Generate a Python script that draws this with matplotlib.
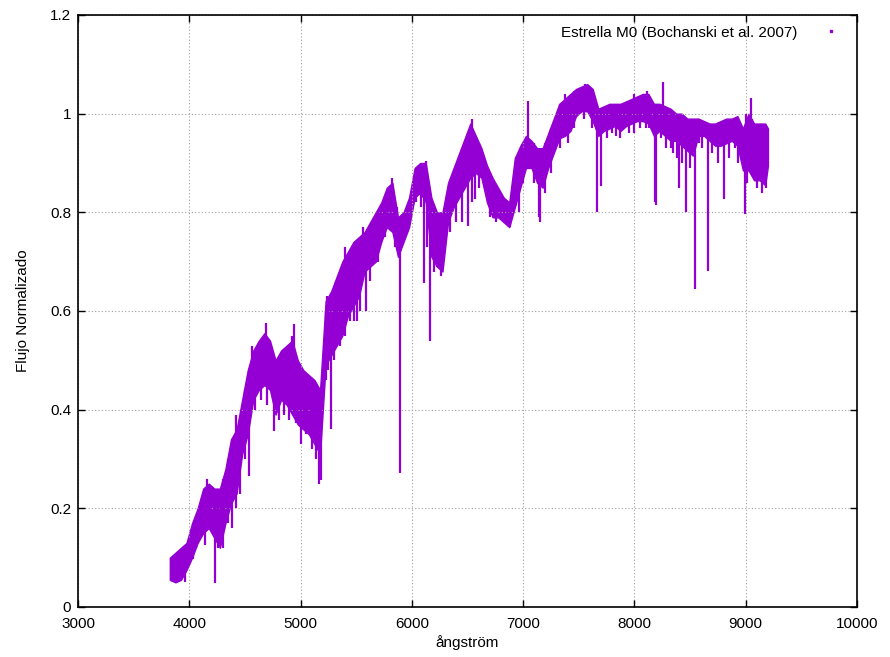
import matplotlib
matplotlib.use("Agg")
import matplotlib.pyplot as plt
from matplotlib.ticker import MultipleLocator, FuncFormatter

# Wavelength grid (Angstrom) and upper / lower envelope of the dense spectrum
wavelength = [3825, 3875, 3925, 3975, 4025, 4075, 4125, 4175, 4225, 4275,
              4325, 4375, 4425, 4475, 4525, 4575, 4625, 4675, 4725, 4775,
              4825, 4875, 4925, 4975, 5025, 5075, 5125, 5175, 5225, 5275,
              5325, 5375, 5425, 5475, 5525, 5575, 5625, 5675, 5725, 5775,
              5825, 5875, 5925, 5975, 6025, 6075, 6125, 6175, 6225, 6275,
              6325, 6375, 6425, 6475, 6525, 6575, 6625, 6675, 6725, 6775,
              6825, 6875, 6925, 6975, 7025, 7075, 7125, 7175, 7225, 7275,
              7325, 7375, 7425, 7475, 7525, 7575, 7625, 7675, 7725, 7775,
              7825, 7875, 7925, 7975, 8025, 8075, 8125, 8175, 8225, 8275,
              8325, 8375, 8425, 8475, 8525, 8575, 8625, 8675, 8725, 8775,
              8825, 8875, 8925, 8975, 9025, 9075, 9125, 9175, 9200]
flux_hi = [0.10, 0.11, 0.12, 0.13, 0.17, 0.20, 0.24, 0.25, 0.24, 0.24,
           0.28, 0.34, 0.36, 0.42, 0.48, 0.52, 0.54, 0.555, 0.54, 0.50,
           0.52, 0.53, 0.54, 0.50, 0.48, 0.47, 0.46, 0.44, 0.62, 0.64,
           0.67, 0.70, 0.72, 0.74, 0.75, 0.76, 0.78, 0.80, 0.82, 0.85,
           0.86, 0.79, 0.80, 0.83, 0.89, 0.90, 0.90, 0.83, 0.80, 0.80,
           0.86, 0.89, 0.92, 0.95, 0.98, 0.955, 0.93, 0.895, 0.87, 0.85,
           0.83, 0.82, 0.91, 0.935, 0.955, 0.945, 0.93, 0.93, 0.96, 0.99,
           1.02, 1.03, 1.04, 1.05, 1.055, 1.06, 1.05, 1.01, 1.015, 1.02,
           1.02, 1.02, 1.025, 1.03, 1.035, 1.04, 1.04, 1.02, 1.02, 1.015,
           1.01, 1.00, 1.00, 0.99, 0.99, 0.99, 0.985, 0.98, 0.98, 0.985,
           0.99, 0.99, 0.995, 0.97, 1.00, 0.98, 0.98, 0.98, 0.97]
flux_lo = [0.055, 0.05, 0.055, 0.075, 0.10, 0.13, 0.15, 0.16, 0.14, 0.12,
           0.17, 0.21, 0.23, 0.31, 0.35, 0.42, 0.44, 0.45, 0.44, 0.39,
           0.42, 0.41, 0.39, 0.37, 0.36, 0.35, 0.33, 0.31, 0.49, 0.51,
           0.53, 0.55, 0.59, 0.61, 0.63, 0.68, 0.69, 0.70, 0.74, 0.77,
           0.76, 0.71, 0.74, 0.77, 0.83, 0.84, 0.82, 0.71, 0.69, 0.68,
           0.78, 0.81, 0.83, 0.85, 0.87, 0.88, 0.87, 0.82, 0.79, 0.79,
           0.78, 0.77, 0.81, 0.85, 0.89, 0.89, 0.86, 0.85, 0.89, 0.92,
           0.95, 0.955, 0.965, 0.995, 1.005, 1.005, 0.985, 0.955, 0.965, 0.97,
           0.975, 0.965, 0.975, 0.98, 0.985, 0.985, 0.98, 0.955, 0.965, 0.955,
           0.945, 0.945, 0.935, 0.925, 0.915, 0.955, 0.955, 0.945, 0.935, 0.935,
           0.94, 0.945, 0.935, 0.885, 0.885, 0.865, 0.865, 0.855, 0.895]

# Narrow absorption features: wavelength, minimum flux, local top
line_wl = [3960, 4030, 4145, 4227, 4385, 4535, 4762, 4957, 5170, 5185,
           5270, 5320, 5447, 5510, 5590, 5893, 6110, 6140, 6162, 6500,
           6570, 6880, 7150, 7665, 7699, 7830, 8183, 8194, 8325, 8400,
           8465, 8542, 8662, 8805, 8990, 9150,
           3880, 3910, 4000, 4060, 4100, 4180, 4260, 4290, 4305, 4350,
           4420, 4460, 4500, 4590, 4640, 4700, 4810, 4850, 4900, 5000,
           5050, 5100, 5140, 5230, 5250, 5300, 5350, 5400, 5480, 5530,
           5620, 5700, 5760, 5850, 5870, 6040, 6080, 6200, 6230, 6260,
           6340, 6400, 6450, 6540, 6600, 6700, 6760, 6960, 7000, 7100,
           7140, 7200, 7250, 7330, 7400, 7460, 7550, 7620, 7750, 7800,
           7870, 7950, 8000, 8050, 8100, 8130, 8240, 8280, 8350, 8380,
           8430, 8500, 8580, 8610, 8700, 8750, 8850, 8900, 8930, 9010,
           9060, 9100, 9180]
line_min = [0.05, 0.097, 0.126, 0.049, 0.16, 0.265, 0.356, 0.373, 0.25, 0.257,
            0.36, 0.53, 0.58, 0.58, 0.60, 0.271, 0.657, 0.73, 0.54, 0.773,
            0.827, 0.77, 0.78, 0.80, 0.854, 0.955, 0.82, 0.814, 0.93, 0.85,
            0.80, 0.645, 0.682, 0.827, 0.797, 0.84,
            0.05, 0.06, 0.085, 0.12, 0.14, 0.16, 0.12, 0.13, 0.12, 0.17,
            0.20, 0.23, 0.30, 0.40, 0.42, 0.41, 0.38, 0.39, 0.38, 0.33,
            0.35, 0.32, 0.30, 0.46, 0.48, 0.50, 0.53, 0.55, 0.58, 0.60,
            0.66, 0.70, 0.75, 0.73, 0.74, 0.82, 0.81, 0.68, 0.69, 0.67,
            0.76, 0.78, 0.78, 0.82, 0.85, 0.79, 0.78, 0.80, 0.86, 0.86,
            0.79, 0.84, 0.88, 0.93, 0.94, 0.97, 0.99, 0.97, 0.95, 0.96,
            0.95, 0.96, 0.96, 0.97, 0.97, 0.97, 0.95, 0.93, 0.92, 0.91,
            0.90, 0.89, 0.94, 0.93, 0.92, 0.90, 0.91, 0.93, 0.90, 0.86,
            0.88, 0.85, 0.85]
line_top = [0.11, 0.15, 0.20, 0.22, 0.30, 0.42, 0.48, 0.50, 0.42, 0.40,
            0.56, 0.66, 0.72, 0.74, 0.76, 0.76, 0.88, 0.88, 0.80, 0.95,
            0.93, 0.82, 0.90, 1.02, 1.00, 1.01, 1.02, 1.02, 1.00, 1.00,
            0.99, 0.98, 0.98, 0.98, 0.97, 0.97,
            0.10, 0.11, 0.14, 0.17, 0.20, 0.24, 0.23, 0.24, 0.26, 0.30,
            0.35, 0.38, 0.44, 0.51, 0.53, 0.53, 0.50, 0.52, 0.52, 0.48,
            0.47, 0.46, 0.45, 0.60, 0.61, 0.63, 0.66, 0.69, 0.72, 0.74,
            0.77, 0.80, 0.83, 0.82, 0.81, 0.88, 0.89, 0.81, 0.79, 0.79,
            0.86, 0.89, 0.92, 0.97, 0.94, 0.88, 0.85, 0.91, 0.93, 0.94,
            0.93, 0.94, 0.97, 1.02, 1.03, 1.045, 1.05, 1.05, 1.01, 1.015,
            1.015, 1.02, 1.025, 1.03, 1.035, 1.035, 1.015, 1.01, 1.005, 1.0,
            0.995, 0.985, 0.985, 0.98, 0.975, 0.975, 0.985, 0.99, 0.99, 0.99,
            0.99, 0.975, 0.975]

# Narrow spikes above the band: wavelength, maximum flux, base
spike_wl = [4685, 4940, 7045, 8255, 9045,
            4110, 4160, 4420, 4560, 4920, 5240, 5400, 5560, 5820, 6130,
            6540, 7380, 7560, 8000, 8110, 9000]
spike_max = [0.576, 0.573, 1.025, 1.065, 1.032,
             0.22, 0.26, 0.39, 0.53, 0.55, 0.63, 0.73, 0.77, 0.87, 0.905,
             0.99, 1.04, 1.06, 1.04, 1.045, 1.0]
spike_base = [0.50, 0.48, 0.93, 1.00, 0.95,
              0.17, 0.20, 0.30, 0.45, 0.45, 0.55, 0.62, 0.70, 0.80, 0.85,
              0.93, 0.98, 1.02, 1.00, 1.00, 0.92]

label = "Estrella M0 (Bochanski et al. 2007)"
color = "#9400d3"

plt.rcParams['font.family'] = ['Liberation Sans', 'DejaVu Sans']

fig = plt.figure(figsize=(8.9, 6.57), dpi=100)
ax = fig.add_axes([78/890, 50/657, (857-78)/890, (607-15)/657])

ax.fill_between(wavelength, flux_lo, flux_hi, color=color, linewidth=1.0,
                edgecolor=color)
ax.vlines(line_wl, line_min, line_top, color=color, linewidth=1.6)
ax.vlines(spike_wl, spike_base, spike_max, color=color, linewidth=1.6)
ax.plot([], [], linestyle='none', marker='s', markersize=1.5, color=color,
        label=label)

ax.set_xlim(3000, 10000)
ax.set_ylim(0, 1.2)
ax.xaxis.set_major_locator(MultipleLocator(1000))
ax.yaxis.set_major_locator(MultipleLocator(0.2))
ax.yaxis.set_major_formatter(FuncFormatter(lambda v, p: "%g" % round(v, 3)))
ax.tick_params(direction='in', length=5, width=1, top=True, right=True,
               labelsize=11)
ax.tick_params(axis='x', pad=7)
ax.tick_params(axis='y', pad=5)
ax.grid(True, color='#a0a0a0', linestyle=(0, (1, 2)), linewidth=0.8)
for s in ax.spines.values():
    s.set_linewidth(1.2)

ax.set_xlabel("ångström", fontsize=11, labelpad=3)
ax.set_ylabel("Flujo Normalizado", fontsize=11, labelpad=14)

leg = ax.legend(loc='upper right', frameon=False, markerfirst=False,
                fontsize=11, handlelength=2.0, handletextpad=1.2,
                borderaxespad=0.3)

fig.savefig("out.png", dpi=100)
